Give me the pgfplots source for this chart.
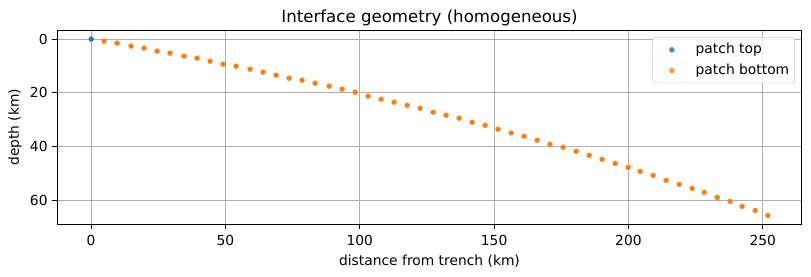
\documentclass[border=0pt]{standalone}
\usepackage{pgfplots}
\pgfplotsset{compat=1.18}
\usepackage{fontspec}
\setmainfont{DejaVu Sans}

\definecolor{mplblue}{HTML}{1F77B4}
\definecolor{mplorange}{HTML}{FF7F0E}
\definecolor{gridgray}{HTML}{B0B0B0}
\definecolor{legendedge}{HTML}{CCCCCC}

% trench point (top of the patch column)
\pgfplotstableread{
x z
0 0
}\patchtop

% lower edge of each patch along the interface
\pgfplotstableread{
x z
4.80 0.75
9.64 1.49
14.85 2.61
19.69 3.35
24.53 4.47
29.37 5.22
34.59 6.34
39.43 7.08
44.27 8.20
49.11 9.32
53.95 10.06
59.16 11.18
64.00 12.30
68.84 13.42
73.68 14.54
78.52 15.28
83.36 16.40
88.57 17.52
93.41 18.64
98.25 19.75
103.09 21.24
107.93 22.36
112.77 23.48
117.61 24.60
122.45 25.72
127.29 27.21
132.13 28.33
136.97 29.44
141.81 30.94
146.65 32.05
151.49 33.54
156.33 34.92
161.17 36.15
166.01 37.64
170.81 39.13
175.69 40.25
180.53 41.74
185.37 43.24
190.21 44.73
195.05 46.22
199.89 47.71
204.36 49.20
209.19 50.69
214.04 52.55
218.88 54.04
223.72 55.53
228.18 57.03
233.02 58.89
237.86 60.38
242.33 62.24
247.17 63.73
251.90 65.60
}\patchbottom

\begin{document}
\begin{tikzpicture}
\begin{axis}[
  name=ax, at={(0,0)}, anchor=south west,
  scale only axis, width=538pt, height=140.2pt,
  xmin=-12.6, xmax=264.5,
  ymin=-3.28, ymax=68.88, y dir=reverse,
  xtick={0,50,100,150,200,250},
  ytick={0,20,40,60},
  grid=major,
  major grid style={draw=gridgray, line width=0.8pt},
  axis line style={line width=0.8pt},
  tick align=outside, major tick length=3.5pt,
  tick style={black, line width=0.8pt},
  xtick pos=bottom, ytick pos=left,
  ticklabel style={font=\fontsize{10}{12}\selectfont},
  xticklabel style={yshift=-1.1pt},
  /pgf/number format/assume math mode=true,
  legend cell align=left,
  legend style={
    at={(1,1)}, anchor=north east, xshift=-4.84pt, yshift=-5.06pt,
    draw=legendedge, rounded corners=2pt, fill=white, fill opacity=0.8,
    text opacity=1, inner xsep=4pt, inner ysep=3.9pt,
    row sep=5pt, column sep=7pt,
    font=\fontsize{10}{12}\selectfont,
    nodes={inner sep=0pt, text height=7.5pt, text depth=2.5pt},
  },
  legend image code/.code={
    \path (0pt,0pt) (20pt,0pt);
    \draw[#1] plot coordinates {(10pt,0pt)};
  },
]
\addplot[only marks, mark=*, mark size=1.8pt, color=mplblue, mark options={line width=0.2pt}]
  table[x=x, y=z] {\patchtop};
\addlegendentry{patch top}
\addplot[only marks, mark=*, mark size=1.8pt, color=mplorange, mark options={line width=0.2pt}]
  table[x=x, y=z] {\patchbottom};
\addlegendentry{patch bottom}
\end{axis}

\node[anchor=base, font=\fontsize{12}{14}\selectfont] at ([yshift=5.4pt]ax.north)
  {Interface geometry (homogeneous)};
\node[anchor=base, font=\fontsize{10}{12}\selectfont] at ([yshift=-29.8pt]ax.south)
  {distance from trench (km)};
\node[anchor=base, rotate=90, font=\fontsize{10}{12}\selectfont] at ([xshift=-27.7pt]ax.west)
  {depth (km)};

\pgfresetboundingbox
\path[use as bounding box] ([xshift=-41.41pt, yshift=-38.09pt]ax.south west)
  rectangle ([xshift=6.72pt, yshift=21.9pt]ax.north east);
\end{tikzpicture}
\end{document}
